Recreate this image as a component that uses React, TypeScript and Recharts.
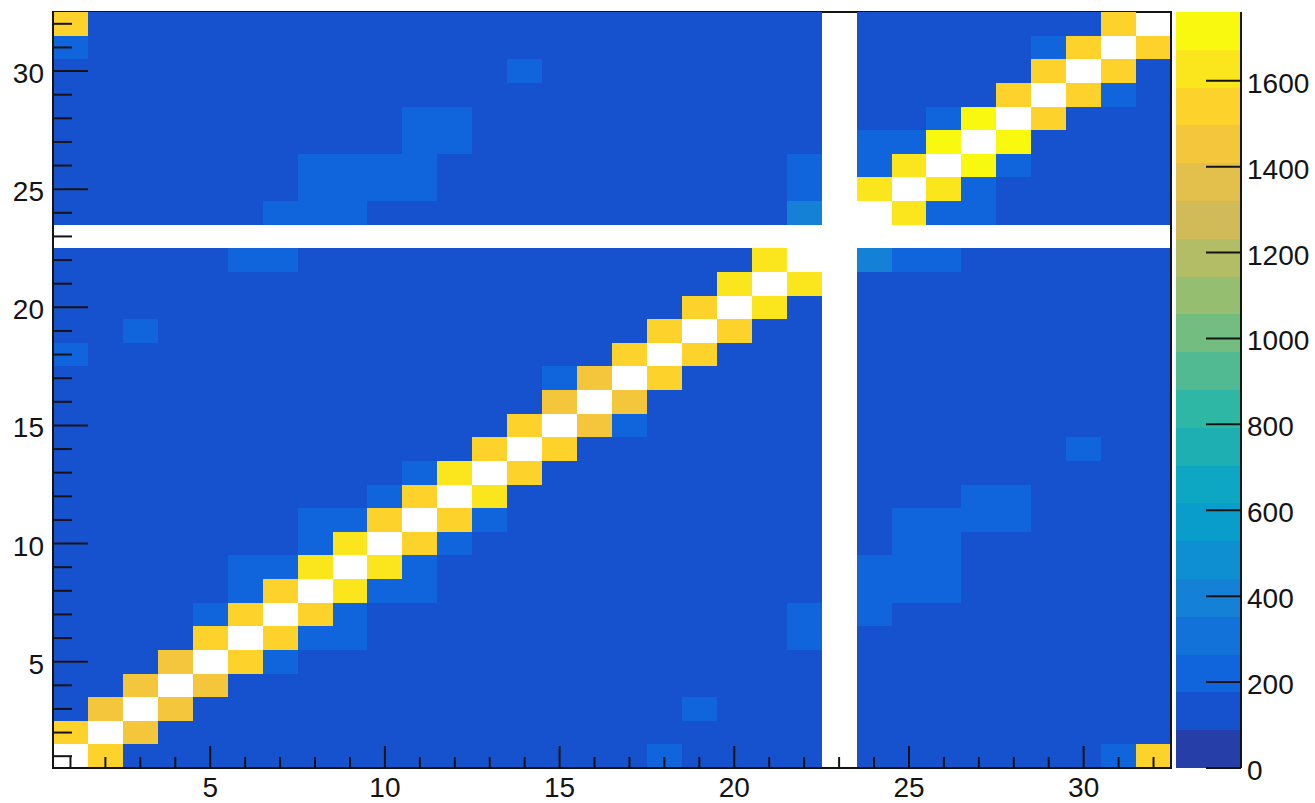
import React from 'react';
import { ComposedChart, XAxis, YAxis, ReferenceArea, ReferenceLine } from 'recharts';

// ---------- axis ticks / labels ----------
const X_TICKS = [1, 2, 3, 4, 5, 6, 7, 8, 9, 10, 11, 12, 13, 14, 15, 16, 17, 18, 19, 20, 21, 22, 23, 24, 25, 26, 27, 28, 29, 30, 31, 32];
const Y_TICKS = [1, 2, 3, 4, 5, 6, 7, 8, 9, 10, 11, 12, 13, 14, 15, 16, 17, 18, 19, 20, 21, 22, 23, 24, 25, 26, 27, 28, 29, 30, 31, 32];
const MAJOR_LABELS = [5, 10, 15, 20, 25, 30];
const Z_TICKS = [0, 200, 400, 600, 800, 1000, 1200, 1400, 1600];
const Z_MAX = 1760;
const Z_LEVELS = 20;

// ---------- bin contents (row y, x = 1..32); 0 = empty bin ----------
const y32 = [1540, 130, 130, 130, 130, 130, 130, 130, 130, 130, 130, 130, 130, 130, 130, 130, 130, 130, 130, 130, 130, 130, 0, 130, 130, 130, 130, 130, 130, 130, 1540, 2500];
const y31 = [220, 130, 130, 130, 130, 130, 130, 130, 130, 130, 130, 130, 130, 130, 130, 130, 130, 130, 130, 130, 130, 130, 0, 130, 130, 130, 130, 130, 220, 1540, 2500, 1540];
const y30 = [130, 130, 130, 130, 130, 130, 130, 130, 130, 130, 130, 130, 130, 220, 130, 130, 130, 130, 130, 130, 130, 130, 0, 130, 130, 130, 130, 130, 1540, 2500, 1540, 130];
const y29 = [130, 130, 130, 130, 130, 130, 130, 130, 130, 130, 130, 130, 130, 130, 130, 130, 130, 130, 130, 130, 130, 130, 0, 130, 130, 130, 130, 1540, 2500, 1540, 220, 130];
const y28 = [130, 130, 130, 130, 130, 130, 130, 130, 130, 130, 220, 220, 130, 130, 130, 130, 130, 130, 130, 130, 130, 130, 0, 130, 130, 220, 1720, 2500, 1540, 130, 130, 130];
const y27 = [130, 130, 130, 130, 130, 130, 130, 130, 130, 130, 220, 220, 130, 130, 130, 130, 130, 130, 130, 130, 130, 130, 0, 220, 220, 1720, 2500, 1720, 130, 130, 130, 130];
const y26 = [130, 130, 130, 130, 130, 130, 130, 220, 220, 220, 220, 130, 130, 130, 130, 130, 130, 130, 130, 130, 130, 220, 0, 220, 1630, 2500, 1720, 220, 130, 130, 130, 130];
const y25 = [130, 130, 130, 130, 130, 130, 130, 220, 220, 220, 220, 130, 130, 130, 130, 130, 130, 130, 130, 130, 130, 220, 0, 1630, 2500, 1630, 220, 130, 130, 130, 130, 130];
const y24 = [130, 130, 130, 130, 130, 130, 220, 220, 220, 130, 130, 130, 130, 130, 130, 130, 130, 130, 130, 130, 130, 400, 0, 2500, 1630, 220, 220, 130, 130, 130, 130, 130];
const y23 = [0, 0, 0, 0, 0, 0, 0, 0, 0, 0, 0, 0, 0, 0, 0, 0, 0, 0, 0, 0, 0, 0, 0, 0, 0, 0, 0, 0, 0, 0, 0, 0];
const y22 = [130, 130, 130, 130, 130, 220, 220, 130, 130, 130, 130, 130, 130, 130, 130, 130, 130, 130, 130, 130, 1630, 2500, 0, 400, 220, 220, 130, 130, 130, 130, 130, 130];
const y21 = [130, 130, 130, 130, 130, 130, 130, 130, 130, 130, 130, 130, 130, 130, 130, 130, 130, 130, 130, 1630, 2500, 1630, 0, 130, 130, 130, 130, 130, 130, 130, 130, 130];
const y20 = [130, 130, 130, 130, 130, 130, 130, 130, 130, 130, 130, 130, 130, 130, 130, 130, 130, 130, 1540, 2500, 1630, 130, 0, 130, 130, 130, 130, 130, 130, 130, 130, 130];
const y19 = [130, 130, 220, 130, 130, 130, 130, 130, 130, 130, 130, 130, 130, 130, 130, 130, 130, 1540, 2500, 1540, 130, 130, 0, 130, 130, 130, 130, 130, 130, 130, 130, 130];
const y18 = [220, 130, 130, 130, 130, 130, 130, 130, 130, 130, 130, 130, 130, 130, 130, 130, 1540, 2500, 1540, 130, 130, 130, 0, 130, 130, 130, 130, 130, 130, 130, 130, 130];
const y17 = [130, 130, 130, 130, 130, 130, 130, 130, 130, 130, 130, 130, 130, 130, 220, 1450, 2500, 1540, 130, 130, 130, 130, 0, 130, 130, 130, 130, 130, 130, 130, 130, 130];
const y16 = [130, 130, 130, 130, 130, 130, 130, 130, 130, 130, 130, 130, 130, 130, 1450, 2500, 1450, 130, 130, 130, 130, 130, 0, 130, 130, 130, 130, 130, 130, 130, 130, 130];
const y15 = [130, 130, 130, 130, 130, 130, 130, 130, 130, 130, 130, 130, 130, 1540, 2500, 1450, 220, 130, 130, 130, 130, 130, 0, 130, 130, 130, 130, 130, 130, 130, 130, 130];
const y14 = [130, 130, 130, 130, 130, 130, 130, 130, 130, 130, 130, 130, 1540, 2500, 1540, 130, 130, 130, 130, 130, 130, 130, 0, 130, 130, 130, 130, 130, 130, 220, 130, 130];
const y13 = [130, 130, 130, 130, 130, 130, 130, 130, 130, 130, 220, 1630, 2500, 1540, 130, 130, 130, 130, 130, 130, 130, 130, 0, 130, 130, 130, 130, 130, 130, 130, 130, 130];
const y12 = [130, 130, 130, 130, 130, 130, 130, 130, 130, 220, 1540, 2500, 1630, 130, 130, 130, 130, 130, 130, 130, 130, 130, 0, 130, 130, 130, 220, 220, 130, 130, 130, 130];
const y11 = [130, 130, 130, 130, 130, 130, 130, 220, 220, 1540, 2500, 1540, 220, 130, 130, 130, 130, 130, 130, 130, 130, 130, 0, 130, 220, 220, 220, 220, 130, 130, 130, 130];
const y10 = [130, 130, 130, 130, 130, 130, 130, 220, 1630, 2500, 1540, 220, 130, 130, 130, 130, 130, 130, 130, 130, 130, 130, 0, 130, 220, 220, 130, 130, 130, 130, 130, 130];
const y9 = [130, 130, 130, 130, 130, 220, 220, 1630, 2500, 1630, 220, 130, 130, 130, 130, 130, 130, 130, 130, 130, 130, 130, 0, 220, 220, 220, 130, 130, 130, 130, 130, 130];
const y8 = [130, 130, 130, 130, 130, 220, 1540, 2500, 1630, 220, 220, 130, 130, 130, 130, 130, 130, 130, 130, 130, 130, 130, 0, 220, 220, 220, 130, 130, 130, 130, 130, 130];
const y7 = [130, 130, 130, 130, 220, 1540, 2500, 1540, 220, 130, 130, 130, 130, 130, 130, 130, 130, 130, 130, 130, 130, 220, 0, 220, 130, 130, 130, 130, 130, 130, 130, 130];
const y6 = [130, 130, 130, 130, 1540, 2500, 1540, 220, 220, 130, 130, 130, 130, 130, 130, 130, 130, 130, 130, 130, 130, 220, 0, 130, 130, 130, 130, 130, 130, 130, 130, 130];
const y5 = [130, 130, 130, 1450, 2500, 1540, 220, 130, 130, 130, 130, 130, 130, 130, 130, 130, 130, 130, 130, 130, 130, 130, 0, 130, 130, 130, 130, 130, 130, 130, 130, 130];
const y4 = [130, 130, 1450, 2500, 1450, 130, 130, 130, 130, 130, 130, 130, 130, 130, 130, 130, 130, 130, 130, 130, 130, 130, 0, 130, 130, 130, 130, 130, 130, 130, 130, 130];
const y3 = [130, 1450, 2500, 1450, 130, 130, 130, 130, 130, 130, 130, 130, 130, 130, 130, 130, 130, 130, 220, 130, 130, 130, 0, 130, 130, 130, 130, 130, 130, 130, 130, 130];
const y2 = [1540, 2500, 1450, 130, 130, 130, 130, 130, 130, 130, 130, 130, 130, 130, 130, 130, 130, 130, 130, 130, 130, 130, 0, 130, 130, 130, 130, 130, 130, 130, 130, 130];
const y1 = [2500, 1540, 130, 130, 130, 130, 130, 130, 130, 130, 130, 130, 130, 130, 130, 130, 130, 220, 130, 130, 130, 130, 0, 130, 130, 130, 130, 130, 130, 130, 220, 1540];

const ROWS_BOTTOM_UP = [y1, y2, y3, y4, y5, y6, y7, y8, y9, y10, y11, y12, y13, y14, y15, y16, y17, y18, y19, y20, y21, y22, y23, y24, y25, y26, y27, y28, y29, y30, y31, y32];

// ---------- ROOT kBird palette ----------
const STOPS = [0.0, 0.125, 0.25, 0.375, 0.5, 0.625, 0.75, 0.875, 1.0];
const RED = [0.2082, 0.0592, 0.078, 0.0232, 0.1802, 0.5301, 0.8186, 0.9956, 0.9764];
const GREEN = [0.1664, 0.3599, 0.5041, 0.6419, 0.7178, 0.7492, 0.7328, 0.7862, 0.9832];
const BLUE = [0.5293, 0.8684, 0.8385, 0.7914, 0.6425, 0.4662, 0.3499, 0.1968, 0.0539];
const N_COLORS = 255;

function birdColor(idx: number): string {
  for (let g = 1; g < STOPS.length; g++) {
    const start = Math.floor(STOPS[g - 1] * N_COLORS);
    const end = Math.floor(STOPS[g] * N_COLORS);
    if (idx < end || g === STOPS.length - 1) {
      const f = (idx - start) / (end - start);
      const r = RED[g - 1] + f * (RED[g] - RED[g - 1]);
      const gg = GREEN[g - 1] + f * (GREEN[g] - GREEN[g - 1]);
      const b = BLUE[g - 1] + f * (BLUE[g] - BLUE[g - 1]);
      return `rgb(${Math.round(r * 255)},${Math.round(gg * 255)},${Math.round(b * 255)})`;
    }
  }
  return '#000';
}

function levelColor(level: number): string {
  return birdColor(Math.floor((level + 0.99) * N_COLORS / Z_LEVELS));
}

function valueColor(v: number): string | null {
  if (v <= 0 || v > Z_MAX) return null;
  const level = Math.min(Z_LEVELS - 1, Math.floor(0.01 + (v * Z_LEVELS) / Z_MAX));
  return levelColor(level);
}

const FONT = '"Liberation Sans", Arial, Helvetica, sans-serif';
const INK = '#141414';

const XTick = (props: any) => {
  const { x, y, payload } = props;
  const v = payload.value;
  const major = MAJOR_LABELS.includes(v);
  return (
    <g>
      <line x1={x} x2={x} y1={y} y2={y - (major ? 22 : 11)} stroke={INK} strokeWidth={2} />
      {major && (
        <text x={x} y={y + 29} textAnchor="middle" fontFamily={FONT} fontSize={28} fill={INK}>
          {v}
        </text>
      )}
    </g>
  );
};

const YTick = (props: any) => {
  const { x, y, payload } = props;
  const v = payload.value;
  const major = MAJOR_LABELS.includes(v);
  return (
    <g>
      <line x1={x} x2={x + (major ? 35 : 19)} y1={y} y2={y} stroke={INK} strokeWidth={2} />
      {major && (
        <text x={x - 9} y={y + 12} textAnchor="end" fontFamily={FONT} fontSize={28} fill={INK}>
          {v}
        </text>
      )}
    </g>
  );
};

const ZTick = (props: any) => {
  const { x, y, payload } = props;
  return (
    <g>
      <line x1={x} x2={x - 35} y1={y} y2={y} stroke={INK} strokeWidth={2} />
      <text x={x + 6} y={y + 12} textAnchor="start" fontFamily={FONT} fontSize={28} fill={INK}>
        {payload.value}
      </text>
    </g>
  );
};

export default function App() {
  const cells: { x: number; y: number; fill: string }[] = [];
  ROWS_BOTTOM_UP.forEach((row, yi) => {
    row.forEach((v, xi) => {
      const fill = valueColor(v);
      if (fill) cells.push({ x: xi + 1, y: yi + 1, fill });
    });
  });
  const bands = Array.from({ length: Z_LEVELS }, (_, i) => i);
  const step = Z_MAX / Z_LEVELS;

  return (
    <div style={{ position: 'absolute', left: 0, top: 0, width: 1315, height: 803, background: '#fff' }}>
      <style>{`.heat .recharts-reference-area-rect, .zbar .recharts-reference-area-rect { shape-rendering: crispEdges; }`}</style>
      <div className="heat" style={{ position: 'absolute', left: 0, top: 0 }}>
        <ComposedChart width={1315} height={803} margin={{ top: 12, right: 144, bottom: 0, left: 0 }}>
          <ReferenceArea x1={0.5} x2={32.5} y1={0.5} y2={32.5} fill="none" stroke={INK} strokeWidth={1.5} ifOverflow="visible" />
          {cells.map((c) => (
            <ReferenceArea
              key={`${c.x}-${c.y}`}
              x1={c.x - 0.5}
              x2={c.x + 0.5}
              y1={c.y - 0.5}
              y2={c.y + 0.5}
              fill={c.fill}
              fillOpacity={1}
              stroke="none"
              ifOverflow="visible"
            />
          ))}
          <ReferenceLine x={32.5} stroke={INK} strokeWidth={2} ifOverflow="visible" />
          <XAxis
            type="number"
            dataKey="x"
            domain={[0.5, 32.5]}
            allowDataOverflow
            ticks={X_TICKS}
            interval={0}
            height={35}
            tickSize={0}
            tickMargin={0}
            tickLine={false}
            axisLine={{ stroke: INK, strokeWidth: 2 }}
            tick={<XTick />}
          />
          <YAxis
            type="number"
            dataKey="y"
            domain={[0.5, 32.5]}
            allowDataOverflow
            ticks={Y_TICKS}
            interval={0}
            width={53}
            tickSize={0}
            tickMargin={0}
            tickLine={false}
            axisLine={{ stroke: INK, strokeWidth: 2 }}
            tick={<YTick />}
          />
        </ComposedChart>
      </div>
      <div className="zbar" style={{ position: 'absolute', left: 1176, top: 0 }}>
        <ComposedChart width={139} height={803} margin={{ top: 12, right: 0, bottom: 35, left: 0 }}>
          {bands.map((i) => (
            <ReferenceArea
              key={i}
              y1={i * step}
              y2={(i + 1) * step}
              fill={levelColor(i)}
              fillOpacity={1}
              stroke="none"
              ifOverflow="visible"
            />
          ))}
          <XAxis type="number" dataKey="x" domain={[0, 1]} allowDataOverflow hide />
          <YAxis
            type="number"
            orientation="right"
            domain={[0, Z_MAX]}
            allowDataOverflow
            ticks={Z_TICKS}
            interval={0}
            width={74}
            tickSize={0}
            tickMargin={0}
            tickLine={false}
            axisLine={{ stroke: INK, strokeWidth: 2 }}
            tick={<ZTick />}
          />
        </ComposedChart>
      </div>
    </div>
  );
}
